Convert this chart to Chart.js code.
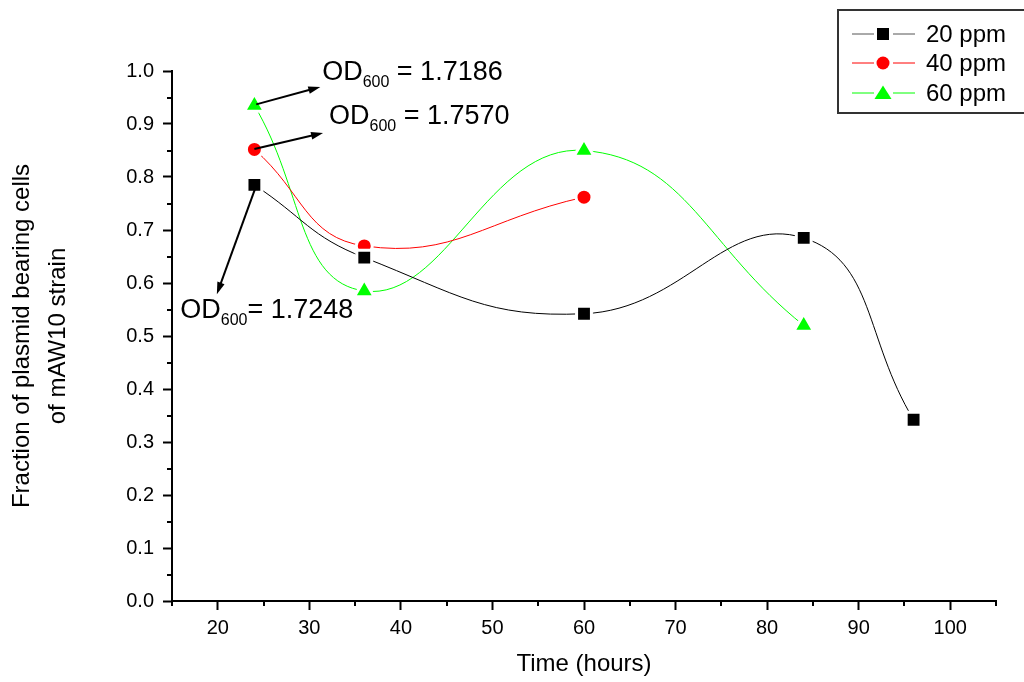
<!DOCTYPE html>
<html>
<head>
<meta charset="utf-8">
<script src="https://cdn.jsdelivr.net/npm/chart.js@4"></script>
<style>
  html, body { margin: 0; padding: 0; background: #fff; }
  #wrap { width: 1024px; height: 682px; }
</style>
</head>
<body>
<div id="wrap"><canvas id="plasmidChart" width="1024" height="682"></canvas></div>
<script>
// values
const hours20 = [24, 36, 60, 84, 96];
const fraction20 = [0.785, 0.648, 0.542, 0.685, 0.342];
const hours40 = [24, 36, 60];
const fraction40 = [0.852, 0.670, 0.762];
const hours60 = [24, 36, 60, 84];
const fraction60 = [0.935, 0.585, 0.850, 0.520];

const xTicks = [20, 30, 40, 50, 60, 70, 80, 90, 100];
const xMinorTicks = [15, 25, 35, 45, 55, 65, 75, 85, 95, 105];
const yTicks = [0, 0.1, 0.2, 0.3, 0.4, 0.5, 0.6, 0.7, 0.8, 0.9, 1.0];
const yMinorTicks = [0.05, 0.15, 0.25, 0.35, 0.45, 0.55, 0.65, 0.75, 0.85, 0.95];

const seriesNames = ["20 ppm", "40 ppm", "60 ppm"];
const seriesColors = ["#000000", "#ff0000", "#00ff00"];
const seriesMarkers = ["rect", "circle", "triangle"];
const markerRadius = [10.5, 8, 11.5];

// OD600 notes: text anchor and arrow (from, to) in data units
const odValues = ["1.7186", "1.7570", "1.7248"];
const odTextAt = [[31.4, 0.983], [32.15, 0.9], [15.9, 0.534]];
const odArrowFrom = [[24.2, 0.937], [24.0, 0.853], [24.1, 0.779]];
const odArrowTo = [[31.2, 0.97], [31.5, 0.883], [19.9, 0.579]];
const odGap = [" ", " ", ""];

const FONT = "'Liberation Sans', Arial, sans-serif";

const toPoints = (xs, ys) => xs.map((x, i) => ({ x: x, y: ys[i] }));

const makeSet = (i, xs, ys) => ({
  label: seriesNames[i],
  data: toPoints(xs, ys),
  borderColor: seriesColors[i],
  borderWidth: 1,
  tension: 0.45,
  pointStyle: seriesMarkers[i],
  pointRadius: markerRadius[i],
  pointHoverRadius: markerRadius[i],
  pointBackgroundColor: seriesColors[i],
  pointBorderColor: "#ffffff",
  pointBorderWidth: 3,
});

// minor ticks + notes + legend
const extrasPlugin = {
  id: "extras",
  afterDraw(chart) {
    const ctx = chart.ctx;
    const xs = chart.scales.x;
    const ys = chart.scales.y;
    const area = chart.chartArea;

    ctx.save();
    ctx.strokeStyle = "#000";
    ctx.lineWidth = 2;
    ctx.beginPath();
    xMinorTicks.forEach((v) => {
      const px = Math.round(xs.getPixelForValue(v));
      ctx.moveTo(px, area.bottom);
      ctx.lineTo(px, area.bottom + 5);
    });
    yMinorTicks.forEach((v) => {
      const py = Math.round(ys.getPixelForValue(v));
      ctx.moveTo(area.left, py);
      ctx.lineTo(area.left - 5, py);
    });
    ctx.stroke();

    // arrows
    ctx.fillStyle = "#000";
    ctx.lineWidth = 2;
    odArrowFrom.forEach((from, i) => {
      const x1 = xs.getPixelForValue(from[0]), y1 = ys.getPixelForValue(from[1]);
      const x2 = xs.getPixelForValue(odArrowTo[i][0]), y2 = ys.getPixelForValue(odArrowTo[i][1]);
      const ang = Math.atan2(y2 - y1, x2 - x1);
      ctx.beginPath();
      ctx.moveTo(x1, y1);
      ctx.lineTo(x2 - 8 * Math.cos(ang), y2 - 8 * Math.sin(ang));
      ctx.stroke();
      ctx.beginPath();
      ctx.moveTo(x2, y2);
      ctx.lineTo(x2 - 12 * Math.cos(ang) + 3.8 * Math.sin(ang), y2 - 12 * Math.sin(ang) - 3.8 * Math.cos(ang));
      ctx.lineTo(x2 - 12 * Math.cos(ang) - 3.8 * Math.sin(ang), y2 - 12 * Math.sin(ang) + 3.8 * Math.cos(ang));
      ctx.closePath();
      ctx.fill();
    });

    // OD600 texts
    ctx.textBaseline = "alphabetic";
    ctx.textAlign = "left";
    odValues.forEach((val, i) => {
      let x = xs.getPixelForValue(odTextAt[i][0]);
      const y = ys.getPixelForValue(odTextAt[i][1]);
      ctx.font = "27px " + FONT;
      ctx.fillText("OD", x, y);
      x += ctx.measureText("OD").width;
      ctx.font = "16px " + FONT;
      ctx.fillText("600", x, y + 7);
      x += ctx.measureText("600").width;
      ctx.font = "27px " + FONT;
      ctx.fillText(odGap[i] + "= " + val, x, y);
    });

    // legend box
    ctx.strokeStyle = "#333";
    ctx.lineWidth = 2;
    ctx.strokeRect(838, 10, 200, 103);
    const rowY = [34, 63, 93];
    seriesNames.forEach((name, i) => {
      const y = rowY[i];
      const col = seriesColors[i];
      ctx.strokeStyle = i === 0 ? "#555" : col;
      ctx.lineWidth = 1;
      ctx.beginPath();
      ctx.moveTo(852, y); ctx.lineTo(874, y);
      ctx.moveTo(893, y); ctx.lineTo(915, y);
      ctx.stroke();
      ctx.fillStyle = col;
      ctx.beginPath();
      if (i === 0) {
        ctx.rect(877, y - 6, 12, 12);
      } else if (i === 1) {
        ctx.arc(883, y, 6.5, 0, Math.PI * 2);
      } else {
        ctx.moveTo(883, y - 7.5);
        ctx.lineTo(891.5, y + 6);
        ctx.lineTo(874.5, y + 6);
        ctx.closePath();
      }
      ctx.fill();
      ctx.fillStyle = "#000";
      ctx.font = "24px " + FONT;
      ctx.textBaseline = "middle";
      ctx.fillText(name, 926, y + 1);
    });
    ctx.restore();
  },
};

new Chart(document.getElementById("plasmidChart"), {
  type: "line",
  data: {
    datasets: [
      makeSet(0, hours20, fraction20),
      makeSet(1, hours40, fraction40),
      makeSet(2, hours60, fraction60),
    ],
  },
  options: {
    responsive: false,
    animation: false,
    layout: { padding: { left: 0, right: 28, top: 71, bottom: 0 } },
    plugins: {
      legend: { display: false },
      tooltip: { enabled: false },
    },
    scales: {
      x: {
        type: "linear",
        min: 15,
        max: 105,
        afterBuildTicks: (axis) => { axis.ticks = xTicks.map((v) => ({ value: v })); },
        afterFit: (axis) => { axis.height = 81; },
        grid: { drawOnChartArea: false, drawTicks: true, tickLength: 9, tickWidth: 2, tickColor: "#000" },
        border: { display: true, color: "#000", width: 2 },
        ticks: { color: "#000", padding: 6, font: { family: FONT, size: 20 }, maxRotation: 0, callback: (v) => String(v) },
        title: { display: true, text: "Time (hours)", color: "#000", font: { family: FONT, size: 24 }, padding: { top: 0, bottom: 3 } },
      },
      y: {
        min: 0,
        max: 1,
        afterBuildTicks: (axis) => { axis.ticks = yTicks.map((v) => ({ value: v })); },
        afterFit: (axis) => { axis.width = 172; },
        grid: { drawOnChartArea: false, drawTicks: true, tickLength: 9, tickWidth: 2, tickColor: "#000" },
        border: { display: true, color: "#000", width: 2 },
        ticks: { color: "#000", padding: 9, font: { family: FONT, size: 20 }, callback: (v) => Number(v).toFixed(1) },
        title: {
          display: true,
          text: ["Fraction of plasmid bearing cells", "of mAW10 strain"],
          color: "#000",
          font: { family: FONT, size: 24, lineHeight: 1.5 },
          padding: { top: 4, bottom: 0 },
        },
      },
    },
  },
  plugins: [extrasPlugin],
});
</script>
</body>
</html>
